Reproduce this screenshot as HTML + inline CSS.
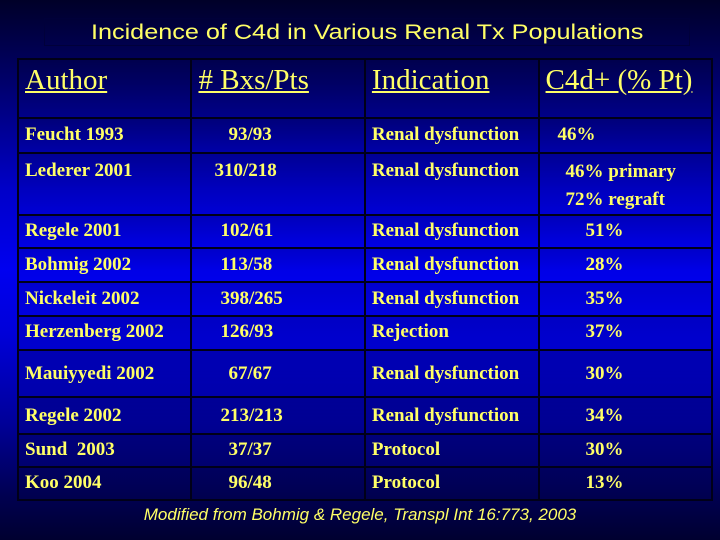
<!DOCTYPE html>
<html><head><meta charset="utf-8"><style>
*{margin:0;padding:0;box-sizing:border-box}
body{width:720px;height:540px;overflow:hidden;position:relative;
background:linear-gradient(to bottom,#000028 0%,#00006a 15%,#0000c8 35%,#0000f0 50%,#0000d8 62%,#00009a 78%,#000050 92%,#000030 100%);
font-family:"Liberation Serif",serif;color:#ffff66}
#title{position:absolute;left:44px;top:18px;width:646px;height:28px;border:1px solid #00003a;
font-family:"Liberation Sans",sans-serif;font-size:21px;text-align:center;line-height:27px;color:#ffff66}
#title span{display:inline-block;transform:scaleX(1.2)}
table{position:absolute;left:17px;top:58px;width:696px;border-collapse:collapse}
td{border:2px solid #000018;vertical-align:top;padding:0 0 0 6px;font-weight:bold;font-size:19px;
background:linear-gradient(to bottom,rgba(0,0,0,0.12),rgba(0,0,0,0))}
td.h{font-size:29px;font-weight:normal;text-decoration:underline;padding-top:4px}
#foot{position:absolute;left:0;width:720px;top:505px;text-align:center;font-family:"Liberation Sans",sans-serif;font-style:italic;font-size:17px;color:#ffff66}
</style></head><body>
<div id="title"><span>Incidence of C4d in Various Renal Tx Populations</span></div>
<table>
<colgroup><col style="width:174px"><col style="width:174px"><col style="width:174px"><col style="width:174px"></colgroup>
<tr style="height:59px"><td class="h">Author</td><td class="h"># Bxs/Pts</td><td class="h">Indication</td><td class="h">C4d+ (% Pt)</td></tr>
<tr style="height:35px"><td style="padding-top:5px">Feucht 1993</td><td style="padding-top:5px;padding-left:36px">93/93</td><td style="padding-top:5px">Renal dysfunction</td><td style="padding-top:5px;padding-left:18px">46%</td></tr>
<tr style="height:61px"><td style="padding-top:6px">Lederer 2001</td><td style="padding-top:6px;padding-left:22px">310/218</td><td style="padding-top:6px">Renal dysfunction</td><td style="padding-top:4px;padding-left:26px;line-height:28px">46% primary<br>72% regraft</td></tr>
<tr style="height:33px"><td style="padding-top:4px">Regele 2001</td><td style="padding-top:4px;padding-left:28px">102/61</td><td style="padding-top:4px">Renal dysfunction</td><td style="padding-top:4px;padding-left:46px">51%</td></tr>
<tr style="height:34px"><td style="padding-top:5px">Bohmig 2002</td><td style="padding-top:5px;padding-left:28px">113/58</td><td style="padding-top:5px">Renal dysfunction</td><td style="padding-top:5px;padding-left:46px">28%</td></tr>
<tr style="height:34px"><td style="padding-top:5px">Nickeleit 2002</td><td style="padding-top:5px;padding-left:28px">398/265</td><td style="padding-top:5px">Renal dysfunction</td><td style="padding-top:5px;padding-left:46px">35%</td></tr>
<tr style="height:34px"><td style="padding-top:4px">Herzenberg 2002</td><td style="padding-top:4px;padding-left:28px">126/93</td><td style="padding-top:4px">Rejection</td><td style="padding-top:4px;padding-left:46px">37%</td></tr>
<tr style="height:47px"><td style="padding-top:12px">Mauiyyedi 2002</td><td style="padding-top:12px;padding-left:36px">67/67</td><td style="padding-top:12px">Renal dysfunction</td><td style="padding-top:12px;padding-left:46px">30%</td></tr>
<tr style="height:37px"><td style="padding-top:7px">Regele 2002</td><td style="padding-top:7px;padding-left:28px">213/213</td><td style="padding-top:7px">Renal dysfunction</td><td style="padding-top:7px;padding-left:46px">34%</td></tr>
<tr style="height:33px"><td style="padding-top:4px">Sund&nbsp; 2003</td><td style="padding-top:4px;padding-left:36px">37/37</td><td style="padding-top:4px">Protocol</td><td style="padding-top:4px;padding-left:46px">30%</td></tr>
<tr style="height:33px"><td style="padding-top:4px">Koo 2004</td><td style="padding-top:4px;padding-left:36px">96/48</td><td style="padding-top:4px">Protocol</td><td style="padding-top:4px;padding-left:46px">13%</td></tr>
</table>
<div id="foot">Modified from Bohmig &amp; Regele, Transpl Int 16:773, 2003</div>
</body></html>
